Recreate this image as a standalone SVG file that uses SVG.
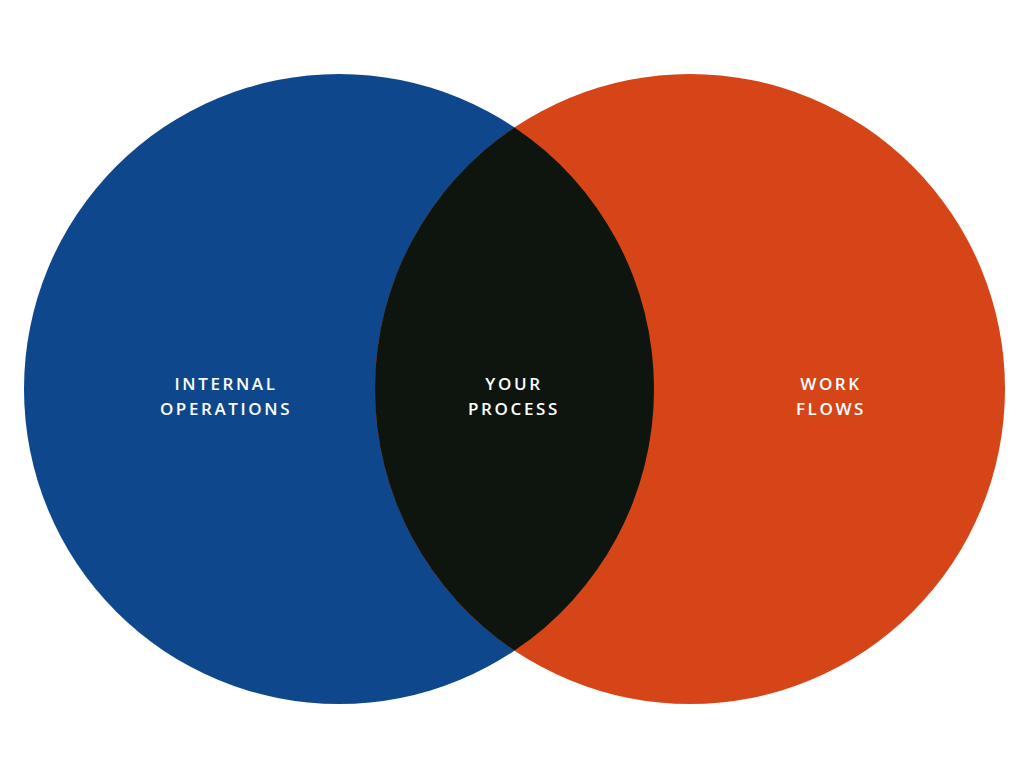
<svg xmlns="http://www.w3.org/2000/svg" width="1024" height="771" viewBox="0 0 1024 771">
<style>
.t{font-family:"Open Sans","Liberation Sans",sans-serif;font-size:17px;font-weight:600;fill:#ffffff;letter-spacing:2.6px;text-anchor:middle}
</style>
<rect width="1024" height="771" fill="#ffffff"/>
<g id="internal-operations">
<circle cx="339" cy="389" r="315" fill="#0e478b"/>
<text class="t" x="226" y="390">INTERNAL</text>
<text class="t" x="226" y="415">OPERATIONS</text>
</g>
<g id="work-flows">
<circle cx="690" cy="389" r="315" fill="#d64518"/>
<text class="t" x="831" y="390">WORK</text>
<text class="t" x="831" y="415">FLOWS</text>
</g>
<g id="your-process">
<path d="M514.5 127.4 A315 315 0 0 1 514.5 650.6 A315 315 0 0 1 514.5 127.4 Z" fill="#0e150f"/>
<text class="t" x="514" y="390">YOUR</text>
<text class="t" x="514" y="415">PROCESS</text>
</g>
<g id="connectors"/>
</svg>
